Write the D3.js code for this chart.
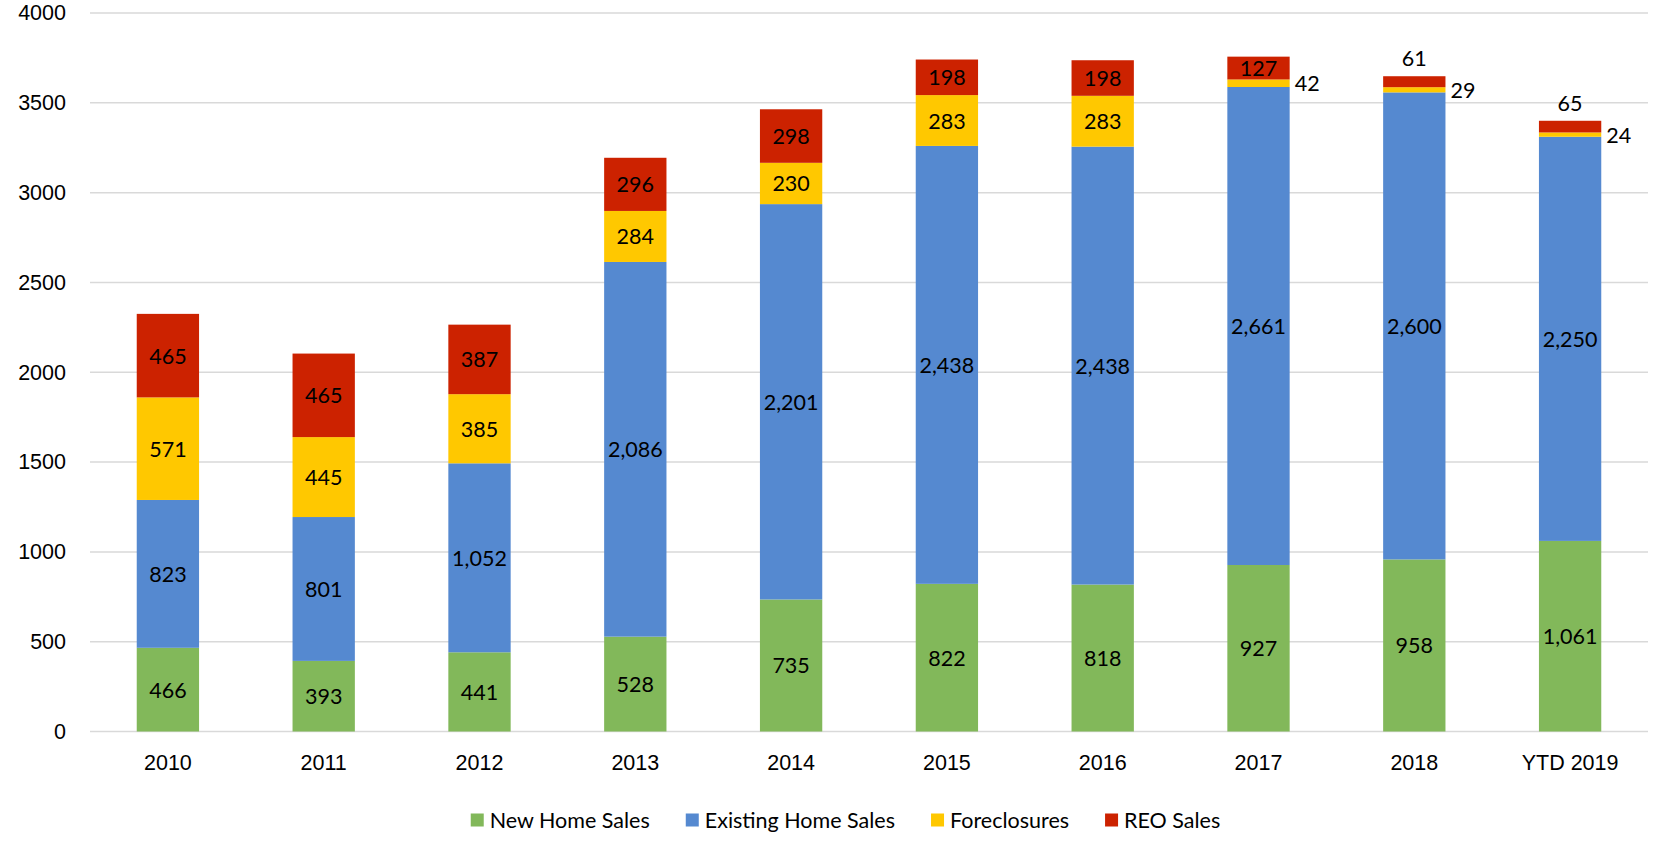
<!DOCTYPE html>
<html>
<head>
<meta charset="utf-8">
<script src="https://cdn.jsdelivr.net/npm/d3@7"></script>
<style>
  body { margin: 0; background: #fff; }
  svg { display: block; font-family: Lato, "Open Sans", sans-serif; }
</style>
</head>
<body>
<svg id="chart"></svg>
<script>
// data
const years = ['2010', '2011', '2012', '2013', '2014', '2015', '2016', '2017', '2018', 'YTD 2019'];
const newHomeSales = [466, 393, 441, 528, 735, 822, 818, 927, 958, 1061];
const existingHomeSales = [823, 801, 1052, 2086, 2201, 2438, 2438, 2661, 2600, 2250];
const foreclosures = [571, 445, 385, 284, 230, 283, 283, 42, 29, 24];
const reoSales = [465, 465, 387, 296, 298, 198, 198, 127, 61, 65];
const seriesNames = ['New Home Sales', 'Existing Home Sales', 'Foreclosures', 'REO Sales'];
const yTicks = [0, 500, 1000, 1500, 2000, 2500, 3000, 3500, 4000];

class StackedBars {
    constructor(_config) {
        this.config = {
            parentElement: _config.parentElement,
            containerWidth: _config.containerWidth || 1653,
            containerHeight: _config.containerHeight || 843,
            margin: _config.margin || {top: 13, right: 5, bottom: 111.5, left: 90}
        }
        this.initVis();
    }

    initVis() {
        let vis = this;

        vis.width = vis.config.containerWidth - vis.config.margin.left - vis.config.margin.right;
        vis.height = vis.config.containerHeight - vis.config.margin.top - vis.config.margin.bottom;

        vis.svg = d3.select(vis.config.parentElement)
            .attr('width', vis.config.containerWidth)
            .attr('height', vis.config.containerHeight);

        vis.chart = vis.svg.append('g')
            .attr('transform', `translate(${vis.config.margin.left},${vis.config.margin.top})`);

        // one row per year, used by d3.stack
        vis.rows = years.map((y, i) => ({
            year: y,
            'New Home Sales': newHomeSales[i],
            'Existing Home Sales': existingHomeSales[i],
            'Foreclosures': foreclosures[i],
            'REO Sales': reoSales[i]
        }));

        vis.updateVis();
    }

    updateVis() {
        let vis = this;

        vis.xScale = d3.scaleBand()
            .domain(years)
            .range([0, vis.width])
            .paddingInner(0.6)
            .paddingOuter(0.3);

        vis.yScale = d3.scaleLinear()
            .domain([0, 4000])
            .range([vis.height, 0]);

        vis.color = d3.scaleOrdinal()
            .domain(seriesNames)
            .range(['#82b85a', '#5589d0', '#ffc800', '#cc2200']);

        vis.stacked = d3.stack().keys(seriesNames)(vis.rows);

        vis.renderVis();
    }

    renderVis() {
        let vis = this;
        const fs = 21.5;

        // gridlines
        vis.chart.append('g')
            .selectAll('line')
            .data(yTicks)
            .join('line')
                .attr('x1', 0)
                .attr('x2', vis.width)
                .attr('y1', d => vis.yScale(d))
                .attr('y2', d => vis.yScale(d))
                .attr('stroke', '#d9d9d9')
                .attr('stroke-width', 1.5);

        // y axis labels (no thousands separator here)
        const yAxis = d3.axisLeft(vis.yScale).tickValues(yTicks).tickFormat(d3.format('d'))
            .tickSize(0).tickPadding(24);
        const yG = vis.chart.append('g').call(yAxis);
        yG.select('.domain').remove();
        yG.selectAll('text').attr('font-size', fs).attr('fill', '#000').attr('font-family', null);

        // x axis labels
        const xAxis = d3.axisBottom(vis.xScale).tickSize(0).tickPadding(23);
        const xG = vis.chart.append('g')
            .attr('transform', `translate(0,${vis.height})`)
            .call(xAxis);
        xG.select('.domain').remove();
        xG.selectAll('text').attr('font-size', fs).attr('fill', '#000').attr('font-family', null);

        // bars
        const layers = vis.chart.append('g')
            .selectAll('g')
            .data(vis.stacked)
            .join('g')
                .attr('fill', d => vis.color(d.key));

        layers.selectAll('rect')
            .data(d => d)
            .join('rect')
                .attr('x', d => vis.xScale(d.data.year))
                .attr('width', vis.xScale.bandwidth())
                .attr('y', d => vis.yScale(d[1]))
                .attr('height', d => vis.yScale(d[0]) - vis.yScale(d[1]));

        // value labels; thin segments get pushed outside the bar
        const labels = [];
        vis.stacked.forEach(layer => {
            layer.forEach(d => {
                const v = d[1] - d[0];
                const h = vis.yScale(d[0]) - vis.yScale(d[1]);
                const x0 = vis.xScale(d.data.year);
                let lab = {text: d3.format(',')(v), x: x0 + vis.xScale.bandwidth() / 2,
                           y: vis.yScale((d[0] + d[1]) / 2), anchor: 'middle', base: 'central'};
                if (h < 15) {
                    if (layer.key === 'REO Sales') {
                        lab.y = vis.yScale(d[1]) - 10;
                        lab.base = 'auto';
                    } else {
                        lab.x = x0 + vis.xScale.bandwidth() + 5;
                        lab.anchor = 'start';
                    }
                }
                labels.push(lab);
            });
        });

        vis.chart.append('g')
            .selectAll('text')
            .data(labels)
            .join('text')
                .attr('x', d => d.x)
                .attr('y', d => d.y)
                .attr('text-anchor', d => d.anchor)
                .attr('dominant-baseline', d => d.base)
                .attr('font-size', fs)
                .attr('fill', '#000')
                .text(d => d.text);

        // legend, centred under the chart
        const legend = vis.svg.append('g');
        const items = legend.selectAll('g')
            .data(seriesNames)
            .join('g');
        items.append('rect')
            .attr('width', 13)
            .attr('height', 13)
            .attr('y', -6.5)
            .attr('fill', d => vis.color(d));
        items.append('text')
            .attr('x', 19)
            .attr('dominant-baseline', 'central')
            .attr('font-size', 21.5)
            .attr('fill', '#000')
            .text(d => d);

        let xPos = 0;
        items.each(function() {
            const w = d3.select(this).select('text').node().getComputedTextLength() + 19;
            d3.select(this).attr('transform', `translate(${xPos},0)`);
            xPos += w + 36;
        });
        const total = xPos - 36;
        legend.attr('transform', `translate(${845.5 - total / 2},820)`);
    }
}

new StackedBars({parentElement: '#chart'});
</script>
</body>
</html>
